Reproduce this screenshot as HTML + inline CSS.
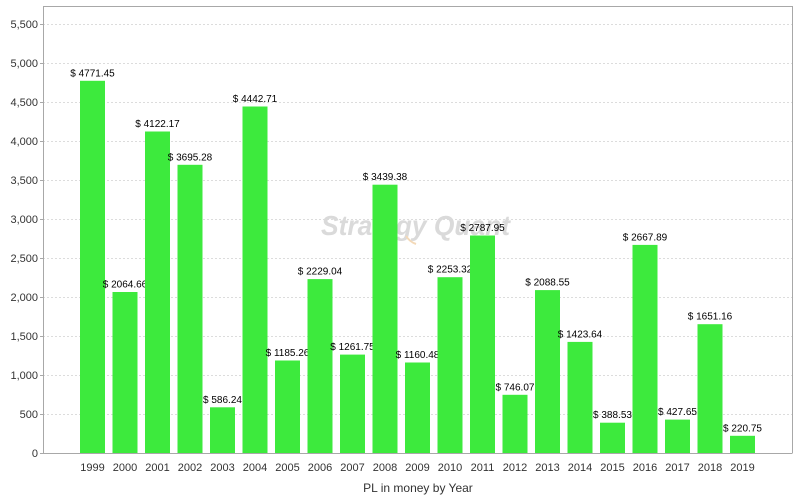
<!DOCTYPE html>
<html><head><meta charset="utf-8"><style>
html,body{margin:0;padding:0;background:#fff;}
svg{display:block;}
text{font-family:"Liberation Sans",Arial,sans-serif;}
</style></head><body>
<svg width="800" height="500" viewBox="0 0 800 500" xmlns="http://www.w3.org/2000/svg">
<rect x="0" y="0" width="800" height="500" fill="#fff"/>
<g stroke="#dcdcdc" stroke-width="1" stroke-dasharray="2,2">
<line x1="43" y1="414.5" x2="792" y2="414.5"/>
<line x1="43" y1="375.5" x2="792" y2="375.5"/>
<line x1="43" y1="336.5" x2="792" y2="336.5"/>
<line x1="43" y1="297.5" x2="792" y2="297.5"/>
<line x1="43" y1="258.5" x2="792" y2="258.5"/>
<line x1="43" y1="219.5" x2="792" y2="219.5"/>
<line x1="43" y1="180.5" x2="792" y2="180.5"/>
<line x1="43" y1="141.5" x2="792" y2="141.5"/>
<line x1="43" y1="102.5" x2="792" y2="102.5"/>
<line x1="43" y1="63.5" x2="792" y2="63.5"/>
<line x1="43" y1="24.5" x2="792" y2="24.5"/>
</g>
<text x="321" y="235" font-size="28" font-weight="bold" font-style="italic" fill="#dadada" textLength="189" lengthAdjust="spacingAndGlyphs">Strategy Quant</text>
<path d="M406 236 q4 6 10 8" stroke="#f3d9b8" stroke-width="2" fill="none"/>
<g font-size="10" fill="#000" text-anchor="middle">
<rect x="80" y="80.8" width="25" height="372.2" fill="#3dea3d"/><text x="92.5" y="76.3">$ 4771.45</text>
<rect x="112.5" y="292" width="25" height="161" fill="#3dea3d"/><text x="125" y="287.5">$ 2064.66</text>
<rect x="145" y="131.5" width="25" height="321.5" fill="#3dea3d"/><text x="157.5" y="127">$ 4122.17</text>
<rect x="177.5" y="164.8" width="25" height="288.2" fill="#3dea3d"/><text x="190" y="160.3">$ 3695.28</text>
<rect x="210" y="407.3" width="25" height="45.7" fill="#3dea3d"/><text x="222.5" y="402.8">$ 586.24</text>
<rect x="242.5" y="106.5" width="25" height="346.5" fill="#3dea3d"/><text x="255" y="102">$ 4442.71</text>
<rect x="275" y="360.5" width="25" height="92.5" fill="#3dea3d"/><text x="287.5" y="356">$ 1185.26</text>
<rect x="307.5" y="279.1" width="25" height="173.9" fill="#3dea3d"/><text x="320" y="274.6">$ 2229.04</text>
<rect x="340" y="354.6" width="25" height="98.4" fill="#3dea3d"/><text x="352.5" y="350.1">$ 1261.75</text>
<rect x="372.5" y="184.7" width="25" height="268.3" fill="#3dea3d"/><text x="385" y="180.2">$ 3439.38</text>
<rect x="405" y="362.5" width="25" height="90.5" fill="#3dea3d"/><text x="417.5" y="358">$ 1160.48</text>
<rect x="437.5" y="277.2" width="25" height="175.8" fill="#3dea3d"/><text x="450" y="272.7">$ 2253.32</text>
<rect x="470" y="235.5" width="25" height="217.5" fill="#3dea3d"/><text x="482.5" y="231">$ 2787.95</text>
<rect x="502.5" y="394.8" width="25" height="58.2" fill="#3dea3d"/><text x="515" y="390.3">$ 746.07</text>
<rect x="535" y="290.1" width="25" height="162.9" fill="#3dea3d"/><text x="547.5" y="285.6">$ 2088.55</text>
<rect x="567.5" y="341.9" width="25" height="111.1" fill="#3dea3d"/><text x="580" y="337.4">$ 1423.64</text>
<rect x="600" y="422.7" width="25" height="30.3" fill="#3dea3d"/><text x="612.5" y="418.2">$ 388.53</text>
<rect x="632.5" y="244.9" width="25" height="208.1" fill="#3dea3d"/><text x="645" y="240.4">$ 2667.89</text>
<rect x="665" y="419.6" width="25" height="33.4" fill="#3dea3d"/><text x="677.5" y="415.1">$ 427.65</text>
<rect x="697.5" y="324.2" width="25" height="128.8" fill="#3dea3d"/><text x="710" y="319.7">$ 1651.16</text>
<rect x="730" y="435.8" width="25" height="17.2" fill="#3dea3d"/><text x="742.5" y="431.3">$ 220.75</text>
</g>
<g stroke="#a8a8a8" stroke-width="1" fill="none">
<line x1="43.5" y1="6" x2="43.5" y2="453.5"/>
<line x1="43" y1="453.5" x2="792" y2="453.5"/>
<line x1="43" y1="6.5" x2="792.5" y2="6.5"/>
<line x1="792.5" y1="6" x2="792.5" y2="453.5"/>
</g>
<g stroke="#a8a8a8" stroke-width="1">
<line x1="40" y1="453.5" x2="43" y2="453.5"/>
<line x1="40" y1="414.5" x2="43" y2="414.5"/>
<line x1="40" y1="375.5" x2="43" y2="375.5"/>
<line x1="40" y1="336.5" x2="43" y2="336.5"/>
<line x1="40" y1="297.5" x2="43" y2="297.5"/>
<line x1="40" y1="258.5" x2="43" y2="258.5"/>
<line x1="40" y1="219.5" x2="43" y2="219.5"/>
<line x1="40" y1="180.5" x2="43" y2="180.5"/>
<line x1="40" y1="141.5" x2="43" y2="141.5"/>
<line x1="40" y1="102.5" x2="43" y2="102.5"/>
<line x1="40" y1="63.5" x2="43" y2="63.5"/>
<line x1="40" y1="24.5" x2="43" y2="24.5"/>
</g>
<g font-size="11" fill="#333" text-anchor="end">
<text x="38" y="457">0</text>
<text x="38" y="418">500</text>
<text x="38" y="379">1,000</text>
<text x="38" y="340">1,500</text>
<text x="38" y="301">2,000</text>
<text x="38" y="262">2,500</text>
<text x="38" y="223">3,000</text>
<text x="38" y="184">3,500</text>
<text x="38" y="145">4,000</text>
<text x="38" y="106">4,500</text>
<text x="38" y="67">5,000</text>
<text x="38" y="28">5,500</text>
</g>
<g font-size="11" fill="#333" text-anchor="middle">
<text x="92.5" y="471">1999</text>
<text x="125" y="471">2000</text>
<text x="157.5" y="471">2001</text>
<text x="190" y="471">2002</text>
<text x="222.5" y="471">2003</text>
<text x="255" y="471">2004</text>
<text x="287.5" y="471">2005</text>
<text x="320" y="471">2006</text>
<text x="352.5" y="471">2007</text>
<text x="385" y="471">2008</text>
<text x="417.5" y="471">2009</text>
<text x="450" y="471">2010</text>
<text x="482.5" y="471">2011</text>
<text x="515" y="471">2012</text>
<text x="547.5" y="471">2013</text>
<text x="580" y="471">2014</text>
<text x="612.5" y="471">2015</text>
<text x="645" y="471">2016</text>
<text x="677.5" y="471">2017</text>
<text x="710" y="471">2018</text>
<text x="742.5" y="471">2019</text>
</g>
<text x="418" y="492" font-size="12" fill="#333" text-anchor="middle">PL in money by Year</text>
</svg>
</body></html>
